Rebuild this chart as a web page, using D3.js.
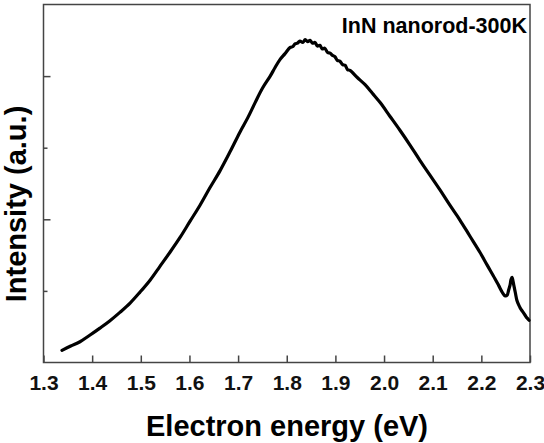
<!DOCTYPE html>
<html>
<head>
<meta charset="utf-8">
<script src="https://cdnjs.cloudflare.com/ajax/libs/d3/7.8.5/d3.min.js"></script>
<style>
    body { margin: 0; background: #fff; }
    text { font-family: "Liberation Sans", Arial, sans-serif; font-weight: bold; }
</style>
</head>
<body>
<div id="container"></div>
<script>
// spectrum (eV, arbitrary units)
var energy = [1.338, 1.356, 1.375, 1.395, 1.416, 1.436, 1.457, 1.478, 1.498, 1.519, 1.539, 1.560, 1.581, 1.601,
              1.622, 1.642, 1.663, 1.684, 1.704, 1.720, 1.735, 1.750, 1.766, 1.776, 1.786, 1.796, 1.807, 1.812,
              1.817, 1.822, 1.827, 1.833, 1.838, 1.843, 1.848, 1.853, 1.858, 1.863, 1.868, 1.873, 1.878, 1.884,
              1.889, 1.894, 1.899, 1.904, 1.909, 1.915, 1.920, 1.925, 1.930, 1.945, 1.961, 1.976, 1.992, 2.012,
              2.033, 2.053, 2.074, 2.094, 2.115, 2.135, 2.156, 2.176, 2.197, 2.212, 2.228, 2.236, 2.244, 2.249,
              2.253, 2.256, 2.259, 2.261, 2.263, 2.265, 2.267, 2.270, 2.273, 2.277, 2.280, 2.285, 2.290, 2.294, 2.298];
var intensity = [0.17, 0.23, 0.29, 0.38, 0.48, 0.58, 0.70, 0.83, 0.98, 1.15, 1.34, 1.54, 1.75, 1.97,
                 2.20, 2.44, 2.68, 2.95, 3.22, 3.42, 3.63, 3.83, 4.00, 4.12, 4.23, 4.31, 4.40, 4.41,
                 4.45, 4.46, 4.49, 4.47, 4.51, 4.48, 4.50, 4.46, 4.47, 4.42, 4.43, 4.38, 4.39, 4.33,
                 4.32, 4.29, 4.27, 4.22, 4.21, 4.16, 4.15, 4.09, 4.08, 3.98, 3.88, 3.76, 3.63, 3.44,
                 3.24, 3.04, 2.82, 2.62, 2.41, 2.20, 1.99, 1.77, 1.54, 1.36, 1.17, 1.07, 0.97, 0.93,
                 0.94, 1.01, 1.08, 1.16, 1.19, 1.14, 1.07, 0.97, 0.87, 0.80, 0.76, 0.71, 0.66, 0.62, 0.59];
var xTicks = [1.3, 1.4, 1.5, 1.6, 1.7, 1.8, 1.9, 2.0, 2.1, 2.2, 2.3];
var yTicks = [1, 2, 3, 4];
var label = "InN nanorod-300K";

var w = 544, h = 443;
var plotL = 43.5, plotR = 530, plotT = 4.5, plotB = 362.5;

var svg = d3.select("#container").append("svg")
    .attr("width", w)
    .attr("height", h);

var x = d3.scaleLinear().domain([1.3, 2.3]).range([plotL, plotR]);
var y = d3.scaleLinear().domain([0, 5]).range([plotB, plotT]);

// x axis, ticks pointing in
var xa = svg.append("g")
    .attr("transform", "translate(0," + plotB + ")")
    .call(d3.axisBottom(x).tickValues(xTicks).tickSize(-7).tickPadding(13)
        .tickFormat(d3.format(".1f")));
xa.select(".domain").remove();
xa.selectAll("line").attr("stroke", "#444").attr("stroke-width", 1.5);
xa.selectAll("text").attr("fill", "#111").style("font-size", "21px")
    .style("font-family", "'Liberation Sans', Arial, sans-serif").style("font-weight", "bold");

// y axis, no labels, alternating tick lengths
var ya = svg.append("g")
    .attr("transform", "translate(" + plotL + ",0)")
    .call(d3.axisLeft(y).tickValues(yTicks).tickSize(0).tickFormat(""));
ya.select(".domain").remove();
ya.selectAll(".tick").append("line")
    .attr("x1", 0)
    .attr("x2", function(d) { return d % 2 == 0 ? 7 : 4; })
    .attr("stroke", "#444").attr("stroke-width", 1.5);

// frame
svg.append("rect")
    .attr("x", plotL).attr("y", plotT)
    .attr("width", plotR - plotL).attr("height", plotB - plotT)
    .attr("fill", "none").attr("stroke", "#444").attr("stroke-width", 1.5);

var pts = energy.map(function(d, i) { return [d, intensity[i]]; });
var line = d3.line()
    .x(function(d) { return x(d[0]); })
    .y(function(d) { return y(d[1]); })
    .curve(d3.curveCatmullRom);

svg.append("path")
    .datum(pts)
    .attr("d", line)
    .attr("fill", "none")
    .attr("stroke", "#000")
    .attr("stroke-width", 3.2)
    .attr("stroke-linejoin", "round")
    .attr("stroke-linecap", "round");

svg.append("text")
    .attr("x", 527).attr("y", 33)
    .attr("text-anchor", "end")
    .style("font-size", "21.5px")
    .text(label);

svg.append("text")
    .attr("x", 287).attr("y", 436)
    .attr("text-anchor", "middle")
    .style("font-size", "29px")
    .text("Electron energy (eV)");

svg.append("text")
    .attr("transform", "translate(26,204) rotate(-90)")
    .attr("text-anchor", "middle")
    .style("font-size", "29px")
    .text("Intensity (a.u.)");
</script>
</body>
</html>
